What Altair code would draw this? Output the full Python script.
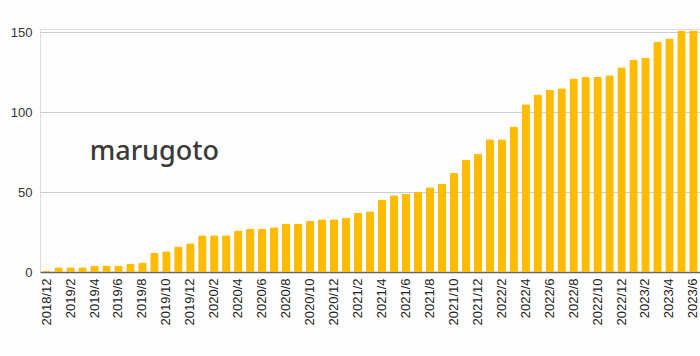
import altair as alt
import pandas as pd

months = []
for y, m in [(2018, 12)] + [(yy, mm) for yy in range(2019, 2023) for mm in range(1, 13)] + [(2023, mm) for mm in range(1, 7)]:
    months.append(f"{y}/{m}")

values = [1, 3, 3, 3, 4, 4, 4, 5, 6, 12, 13, 16, 18,
          23, 23, 23, 26, 27, 27, 28, 30, 30, 32, 33, 33,
          34, 37, 38, 45, 48, 49, 50, 53, 55, 62, 70, 74,
          83, 83, 91, 105, 111, 114, 115, 121, 122, 122, 123, 128,
          133, 134, 144, 146, 151, 151]

shown_labels = months[::2]

df = pd.DataFrame({"month": months, "value": values})

FONT = "Liberation Sans"

bars = alt.Chart(df).mark_bar(
    color="#FFBB00", cornerRadiusTopLeft=1.5, cornerRadiusTopRight=1.5
).encode(
    x=alt.X("month:N", sort=months, title=None,
            scale=alt.Scale(paddingInner=0.3, paddingOuter=0.2),
            axis=alt.Axis(values=shown_labels, labelAngle=270, labelFontSize=13,
                          labelColor="#222222", labelFont=FONT, ticks=False,
                          domainColor="#666666", domainWidth=1.5, labelPadding=6,
                          grid=False)),
    y=alt.Y("value:Q", title=None,
            scale=alt.Scale(domain=[0, 152], nice=False),
            axis=alt.Axis(values=[0, 50, 100, 150], labelFontSize=13, labelColor="#333333",
                          labelFont=FONT, ticks=False, domain=False, gridColor="#cccccc",
                          labelPadding=8)),
)

mark = alt.Chart(pd.DataFrame({"t": ["marugoto"]})).mark_text(
    font="Noto Sans", fontSize=27, fontWeight=500, color="#3a3a3a", baseline="middle"
).encode(
    x=alt.datum("2019/9"),
    y=alt.datum(75),
    text="t:N",
)

chart = alt.layer(bars, mark).properties(
    width=660, height=243,
    autosize=alt.AutoSizeParams(type="none"),
    padding={"left": 40, "top": 29, "right": 0, "bottom": 84},
).configure_view(stroke=None).configure(background="#fdfdfd")

chart.save("out.html", embed_options={"renderer": "svg", "actions": False})
